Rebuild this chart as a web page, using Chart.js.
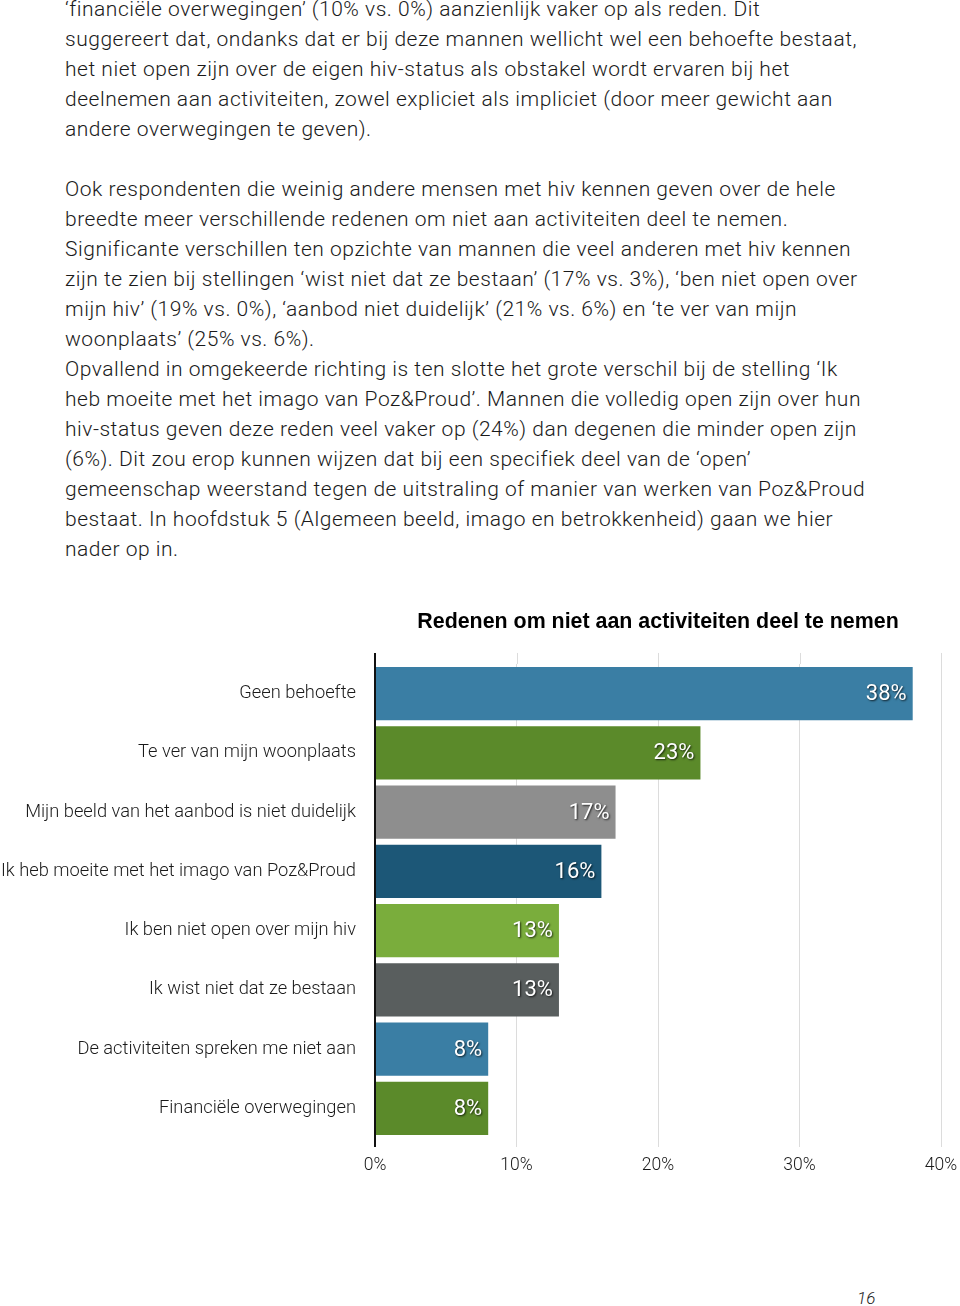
<!DOCTYPE html>
<html>
<head>
<meta charset="utf-8">
<script src="https://cdn.jsdelivr.net/npm/chart.js@4"></script>
<style>
  html, body { margin: 0; padding: 0; background: #fff; }
  body { width: 960px; height: 1306px; position: relative; overflow: hidden; }
  #tekst { position: absolute; left: 65px; top: -6px; font-family: Roboto, sans-serif; font-weight: 300;
           font-size: 21px; letter-spacing: 0.52px; line-height: 30px; color: #1a1a1a; white-space: nowrap; }
  #tekst div { height: 30px; }
  #grafiek { position: absolute; left: 0; top: 590px; width: 960px; height: 600px; }
  #pagina { position: absolute; left: 857px; top: 1288px; font-family: Roboto, sans-serif; font-style: italic;
            font-weight: 300; font-size: 17px; color: #222; }
</style>
</head>
<body>
<div id="tekst">
  <div>‘financiële overwegingen’ (10% vs. 0%) aanzienlijk vaker op als reden. Dit</div>
  <div>suggereert dat, ondanks dat er bij deze mannen wellicht wel een behoefte bestaat,</div>
  <div>het niet open zijn over de eigen hiv-status als obstakel wordt ervaren bij het</div>
  <div>deelnemen aan activiteiten, zowel expliciet als impliciet (door meer gewicht aan</div>
  <div>andere overwegingen te geven).</div>
  <div></div>
  <div>Ook respondenten die weinig andere mensen met hiv kennen geven over de hele</div>
  <div>breedte meer verschillende redenen om niet aan activiteiten deel te nemen.</div>
  <div>Significante verschillen ten opzichte van mannen die veel anderen met hiv kennen</div>
  <div>zijn te zien bij stellingen ‘wist niet dat ze bestaan’ (17% vs. 3%), ‘ben niet open over</div>
  <div>mijn hiv’ (19% vs. 0%), ‘aanbod niet duidelijk’ (21% vs. 6%) en ‘te ver van mijn</div>
  <div>woonplaats’ (25% vs. 6%).</div>
  <div>Opvallend in omgekeerde richting is ten slotte het grote verschil bij de stelling ‘Ik</div>
  <div>heb moeite met het imago van Poz&amp;Proud’. Mannen die volledig open zijn over hun</div>
  <div>hiv-status geven deze reden veel vaker op (24%) dan degenen die minder open zijn</div>
  <div>(6%). Dit zou erop kunnen wijzen dat bij een specifiek deel van de ‘open’</div>
  <div>gemeenschap weerstand tegen de uitstraling of manier van werken van Poz&amp;Proud</div>
  <div>bestaat. In hoofdstuk 5 (Algemeen beeld, imago en betrokkenheid) gaan we hier</div>
  <div>nader op in.</div>
</div>

<div id="grafiek"><canvas id="redenen"></canvas></div>
<div id="pagina">16</div>

<script>
const titel = 'Redenen om niet aan activiteiten deel te nemen';
const redenen = [
  'Geen behoefte',
  'Te ver van mijn woonplaats',
  'Mijn beeld van het aanbod is niet duidelijk',
  'Ik heb moeite met het imago van Poz&Proud',
  'Ik ben niet open over mijn hiv',
  'Ik wist niet dat ze bestaan',
  'De activiteiten spreken me niet aan',
  'Financiële overwegingen'
];
const percentages = [38, 23, 17, 16, 13, 13, 8, 8];
const asMin = 0, asMax = 40, asStap = 10;
const kleuren = ['#3a7ea4', '#5b8a2a', '#8e8e8e', '#1c5777', '#7aad3c', '#595e5e', '#3a7ea4', '#5b8a2a'];

Chart.defaults.font.family = 'Roboto, sans-serif';
Chart.defaults.color = '#1a1a1a';

// labels in de balken, wit met schaduw
const balkLabels = {
  id: 'balkLabels',
  afterDatasetsDraw(chart) {
    const ctx = chart.ctx;
    const meta = chart.getDatasetMeta(0);
    ctx.save();
    ctx.font = '400 22px Roboto, sans-serif';
    ctx.textAlign = 'right';
    ctx.textBaseline = 'middle';
    ctx.fillStyle = '#fff';
    ctx.shadowColor = 'rgba(0,0,0,0.75)';
    ctx.shadowOffsetX = 1;
    ctx.shadowOffsetY = 1;
    ctx.shadowBlur = 2;
    meta.data.forEach((bar, i) => {
      ctx.fillText(percentages[i] + '%', bar.x - 6, bar.y + 1);
    });
    ctx.restore();
  }
};

// assen iets langer laten doorlopen dan het plotgebied
const asVerlengen = {
  id: 'asVerlengen',
  afterDraw(chart) {
    const {ctx, chartArea, scales} = chart;
    ctx.save();
    ctx.strokeStyle = '#dcdcdc';
    ctx.lineWidth = 1;
    scales.x.ticks.forEach(t => {
      const px = Math.round(scales.x.getPixelForValue(t.value)) + 0.5;
      ctx.beginPath();
      ctx.moveTo(px, chartArea.top - 11);
      ctx.lineTo(px, chartArea.top);
      ctx.stroke();
    });
    ctx.strokeStyle = '#111';
    ctx.lineWidth = 2;
    const x0 = scales.x.getPixelForValue(0);
    ctx.beginPath();
    ctx.moveTo(x0, chartArea.top - 11);
    ctx.lineTo(x0, chartArea.bottom + 9);
    ctx.stroke();
    ctx.restore();
  }
};

new Chart(document.getElementById('redenen'), {
  type: 'bar',
  data: {
    labels: redenen,
    datasets: [{
      data: percentages,
      backgroundColor: kleuren,
      borderWidth: 0,
      barPercentage: 0.9,
      categoryPercentage: 1.0
    }]
  },
  options: {
    indexAxis: 'y',
    responsive: true,
    maintainAspectRatio: false,
    animation: false,
    layout: { padding: { left: 0, right: 19, top: 0, bottom: 0 } },
    plugins: {
      legend: { display: false },
      tooltip: { enabled: false },
      title: {
        display: true,
        text: titel,
        fullSize: false,
        color: '#000',
        font: { family: '"Liberation Sans", Arial, sans-serif', size: 21.4, weight: 'bold' },
        padding: { top: 19, bottom: 29.3 }
      }
    },
    scales: {
      x: {
        min: asMin,
        max: asMax,
        afterFit: s => { s.height = 52; s.paddingLeft = 0; s.paddingRight = 0; },
        ticks: { stepSize: asStap, padding: 8, color: '#1a1a1a',
                 font: { size: 17.5, weight: '300' }, callback: v => v + '%' },
        grid: { color: '#dcdcdc', lineWidth: 1, drawTicks: true, tickLength: 9 },
        border: { display: false }
      },
      y: {
        afterFit: s => { s.width = 375; s.paddingTop = 0; s.paddingBottom = 0; },
        ticks: { padding: 19, color: '#1a1a1a', font: { size: 18.3, weight: '300' } },
        grid: { display: false, drawTicks: false },
        border: { display: true, color: '#111', width: 2 }
      }
    }
  },
  plugins: [balkLabels, asVerlengen]
});
</script>
</body>
</html>
